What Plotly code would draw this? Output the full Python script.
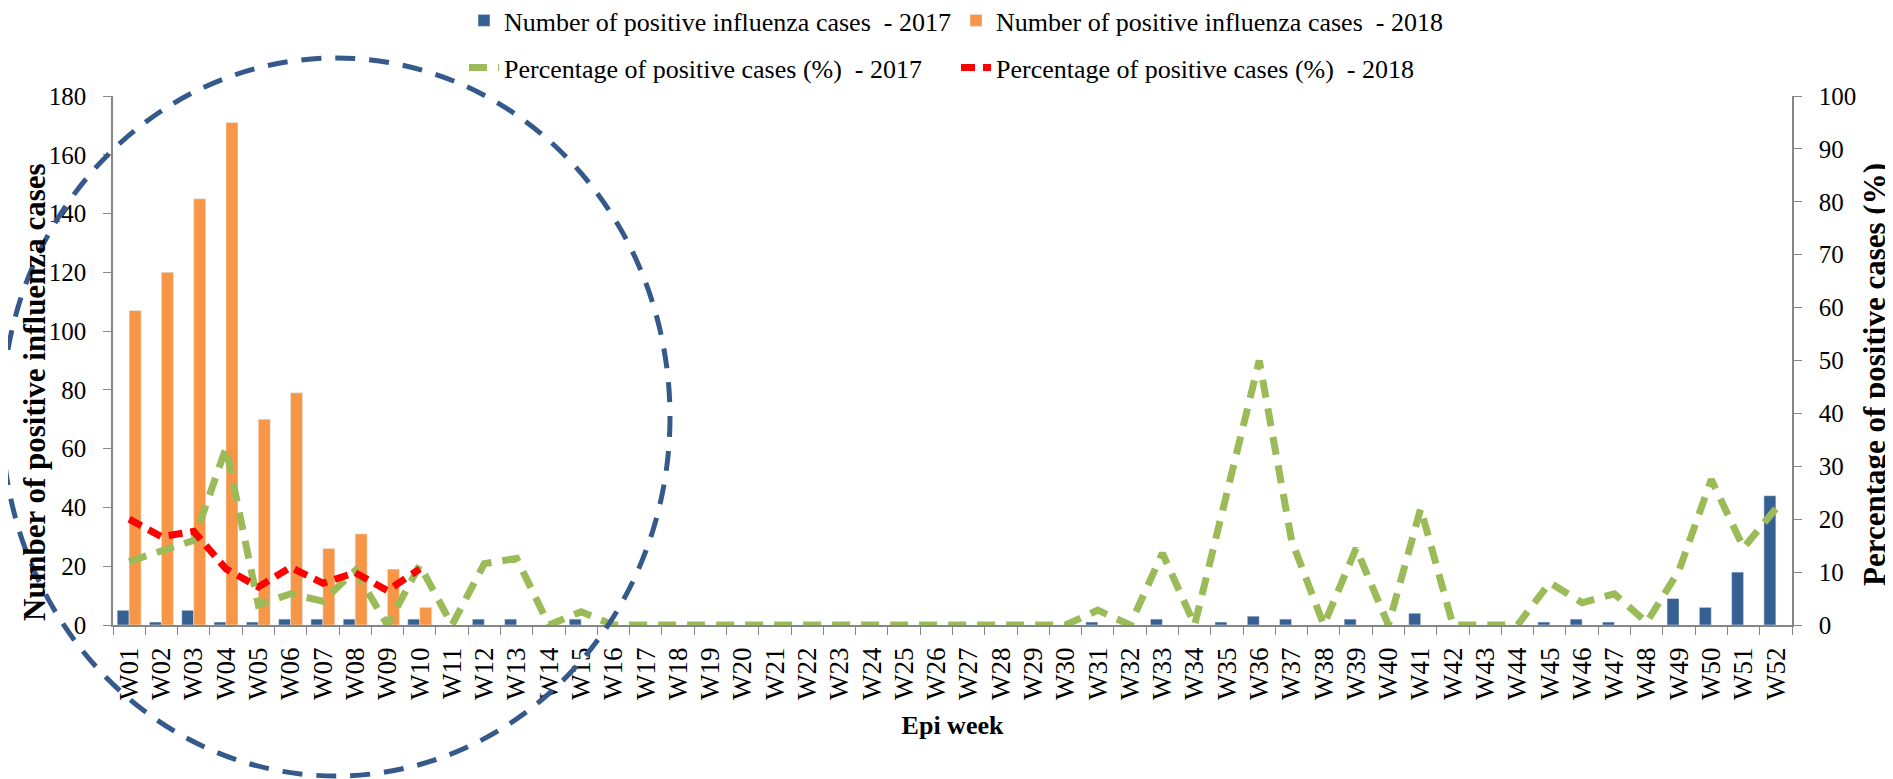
import plotly.graph_objects as go

weeks = ["W%02d" % i for i in range(1, 53)]

cases_2017 = [5, 1, 5, 1, 1, 2, 2, 2, 0, 2,
              0, 2, 2, 0, 2,
              0, 0, 0, 0, 0, 0, 0, 0, 0, 0, 0, 0, 0, 0, 0,
              1, 0, 2, 0, 1, 3, 2, 0, 2, 0, 4, 0, 0, 0, 1, 2, 1, 0, 9, 6, 18, 44]
cases_2018 = [107, 120, 145, 171, 70, 79, 26, 31, 19, 6]

pct_2017 = [12, 14, 16, 33.5, 3.8, 5.9, 4.5, 10.3, 0, 11.3,
            0, 11.6, 12.6, 0, 2.5,
            0, 0, 0, 0, 0, 0, 0, 0, 0, 0, 0, 0, 0, 0, 0,
            2.8, 0, 13.6, 0, 25, 50, 16, 0, 14.5, 0, 22, 0, 0, 0,
            8, 4.2, 5.9, 0.5, 10.3, 27.5, 14.6, 22]
pct_2018 = [20, 16.7, 17.7, 10.6, 7.2, 10.9, 7.9, 9.9, 6.5, 10.6]

left_ticks = list(range(0, 181, 20))
right_ticks = list(range(0, 101, 10))

FONT = "Liberation Serif"
OFF = 8                      # default page body margin
W, H = 1885, 771
ML, MR, MT, MB = 105, 101, 88, 154
PW, PH = W - ML - MR, H - MT - MB


def px_x(p):                 # page pixel -> paper x
    return (p - OFF - ML) / PW


def px_y(p):                 # page pixel -> paper y
    return (H - MB - (p - OFF)) / PH


fig = go.Figure()
fig.add_trace(go.Bar(x=weeks, y=cases_2017, name="Number of positive influenza cases  - 2017",
                     marker=dict(color="#376092"), legend="legend"))
fig.add_trace(go.Bar(x=weeks[:len(cases_2018)], y=cases_2018,
                     name="Number of positive influenza cases  - 2018",
                     marker=dict(color="#F79646"), legend="legend"))
fig.add_trace(go.Scatter(x=weeks, y=pct_2017, yaxis="y2", mode="lines",
                         name="Percentage of positive cases (%)  - 2017",
                         line=dict(color="#9BBB59", width=7, dash="18px,11px"),
                         legend="legend2"))
fig.add_trace(go.Scatter(x=weeks[:len(pct_2018)], y=pct_2018, yaxis="y2", mode="lines",
                         name="Percentage of positive cases (%)  - 2018",
                         line=dict(color="#FF0000", width=7, dash="14px,8px"),
                         legend="legend2"))

axis_col = "#868686"
fig.update_layout(
    width=W, height=H,
    margin=dict(l=ML, r=MR, t=MT, b=MB, autoexpand=False),
    plot_bgcolor="white", paper_bgcolor="white",
    font=dict(family=FONT, color="black", size=24),
    barmode="group", bargap=0.26, bargroupgap=0,
    xaxis=dict(type="category", categoryorder="array", categoryarray=weeks,
               tickmode="array", tickvals=weeks, ticktext=weeks,
               tickangle=-90, tickson="boundaries", ticks="outside", ticklen=8,
               tickcolor=axis_col, showline=True, linecolor=axis_col, linewidth=1.5,
               showgrid=False, zeroline=False, tickfont=dict(size=27, family=FONT),
               ticklabelstandoff=10,
               title=dict(text="<b>Epi week</b>", font=dict(size=26, family=FONT), standoff=17),
               automargin=False, range=[-0.5, 51.5]),
    yaxis=dict(range=[0, 180], tickvals=left_ticks, ticks="outside", ticklen=8,
               tickcolor=axis_col, showline=True, linecolor=axis_col, linewidth=1.5,
               showgrid=False, zeroline=False, tickfont=dict(size=25, family=FONT),
               ticklabelstandoff=12, automargin=False),
    yaxis2=dict(range=[0, 100], tickvals=right_ticks, overlaying="y", side="right",
                ticks="outside", ticklen=8, tickcolor=axis_col, showline=True,
                linecolor=axis_col, linewidth=1.5, showgrid=False, zeroline=False,
                tickfont=dict(size=25, family=FONT), ticklabelstandoff=12,
                automargin=False),
    legend=dict(orientation="h", x=px_x(464), xanchor="left", y=px_y(20.5), yanchor="middle",
                font=dict(size=26, family=FONT), entrywidth=447, entrywidthmode="pixels",
                bgcolor="rgba(0,0,0,0)", traceorder="normal"),
    legend2=dict(orientation="h", x=px_x(464), xanchor="left", y=px_y(67.5), yanchor="middle",
                 font=dict(size=26, family=FONT), entrywidth=447, entrywidthmode="pixels",
                 bgcolor="rgba(0,0,0,0)", traceorder="normal"),
    showlegend=True,
)

# axis titles (placed as in the reference, slightly below the axis centre)
fig.add_annotation(text="<b>Number of positive influenza cases</b>", textangle=-90,
                   xref="paper", yref="paper", x=px_x(34), y=px_y(392),
                   xanchor="center", yanchor="middle", showarrow=False,
                   font=dict(size=31, family=FONT, color="black"))
fig.add_annotation(text="<b>Percentage of positive cases (%)</b>", textangle=-90,
                   xref="paper", yref="paper", x=px_x(1874), y=px_y(374),
                   xanchor="center", yanchor="middle", showarrow=False,
                   font=dict(size=31, family=FONT, color="black"))

# dashed highlight ellipse
fig.add_shape(type="circle", xref="paper", yref="paper",
              x0=px_x(2), x1=px_x(670), y0=px_y(776), y1=px_y(58),
              line=dict(color="#34598A", width=5, dash="20px,14px"), layer="above")

fig.write_html("out.html")
